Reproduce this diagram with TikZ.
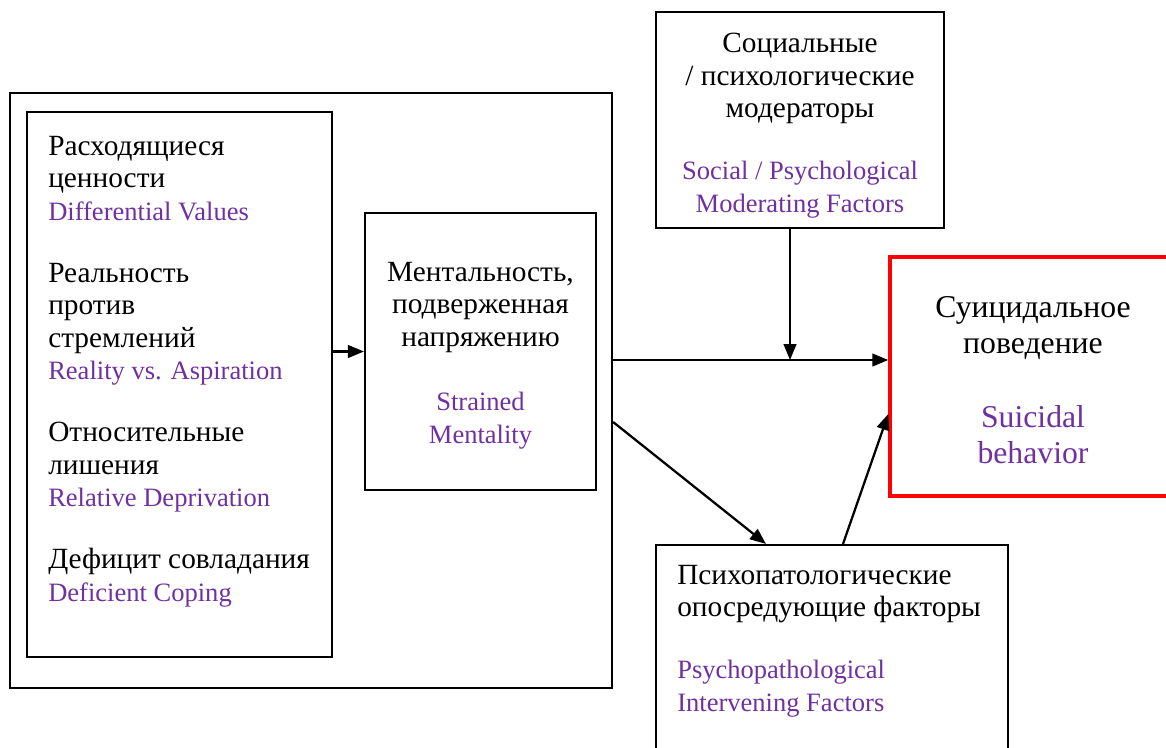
\documentclass[tikz,border=0pt]{standalone}
\usepackage{fontspec}
\setmainfont{Liberation Serif}
\usetikzlibrary{arrows.meta}
\definecolor{engpurple}{RGB}{112,48,160}
\newcommand{\eng}[1]{\textcolor{engpurple}{\fontsize{19.9}{24.4}\selectfont #1}}
\tikzset{
  frame/.style={draw, line width=1.6pt, inner sep=0pt},
  txt/.style={inner sep=0pt, font=\fontsize{22}{24.4}\selectfont},
  bigtxt/.style={inner sep=0pt, font=\fontsize{23.8}{27}\selectfont},
  arr/.style={line width=1.7pt, -{Triangle[length=12pt,width=9.5pt]}}
}
\begin{document}
\begin{tikzpicture}[x=0.75pt,y=-0.75pt]
  \clip (0,0) rectangle (1166,747);
  \node[frame, minimum width=451.5pt, minimum height=446.25pt] (outer) at (311,390.5) {};
  \node[frame, minimum width=228.75pt, minimum height=408.75pt] (left) at (179.5,384.5) {};
  \node[frame, minimum width=173.25pt, minimum height=207.75pt] (mid) at (480.5,351.5) {};
  \node[frame, minimum width=216pt, minimum height=162pt] (mod) at (800,120) {};
  \node[frame, draw=red, line width=2.6pt, minimum width=214.5pt, minimum height=179.25pt] (susp) at (1033,376.5) {};
  \node[frame, minimum width=264pt, minimum height=168.75pt] (psy) at (832,657.5) {};

  \node[txt, align=left, anchor=base west] (lefttxt) at (48,601)
    {Расходящиеся\\ценности\\\eng{Differential Values}\\[22pt]
     Реальность\\против\\стремлений\\\eng{Reality vs. Aspiration}\\[22pt]
     Относительные\\лишения\\\eng{Relative Deprivation}\\[22pt]
     Дефицит совладания\\\eng{Deficient Coping}};
  \node[txt, align=center, anchor=base] (midtxt) at (480.5,443)
    {Ментальность,\\подверженная\\напряжению\\[23.6pt]
     \eng{Strained}\\\eng{Mentality}};
  \node[txt, align=center, anchor=base] (modtxt) at (800,212)
    {Социальные\\/ психологические\\модераторы\\[22pt]
     \eng{Social / Psychological}\\\eng{Moderating Factors}};
  \node[bigtxt, align=center, anchor=base] (susptxt) at (1033,463)
    {Суицидальное\\поведение\\[28.5pt]
     \textcolor{engpurple}{Suicidal}\\\textcolor{engpurple}{behavior}};
  \node[txt, align=left, anchor=base west] (psytxt) at (677,711)
    {Психопатологические\\опосредующие факторы\\[22pt]
     \eng{Psychopathological}\\\eng{Intervening Factors}};

  \coordinate (join) at (790,360);
  \draw[arr] (mid.west -| left.east) -- (mid.west);
  \draw[arr] (mod.south -| join) -- (join);
  \draw[arr] (join -| outer.east) -- (join -| susp.west);
  \draw[arr] ([yshift=-23.6pt]outer.east) -- ([xshift=-49.5pt]psy.north);
  \draw[arr] ([xshift=8.25pt]psy.north) -- ([yshift=-28.1pt]susp.west);
\end{tikzpicture}
\end{document}
